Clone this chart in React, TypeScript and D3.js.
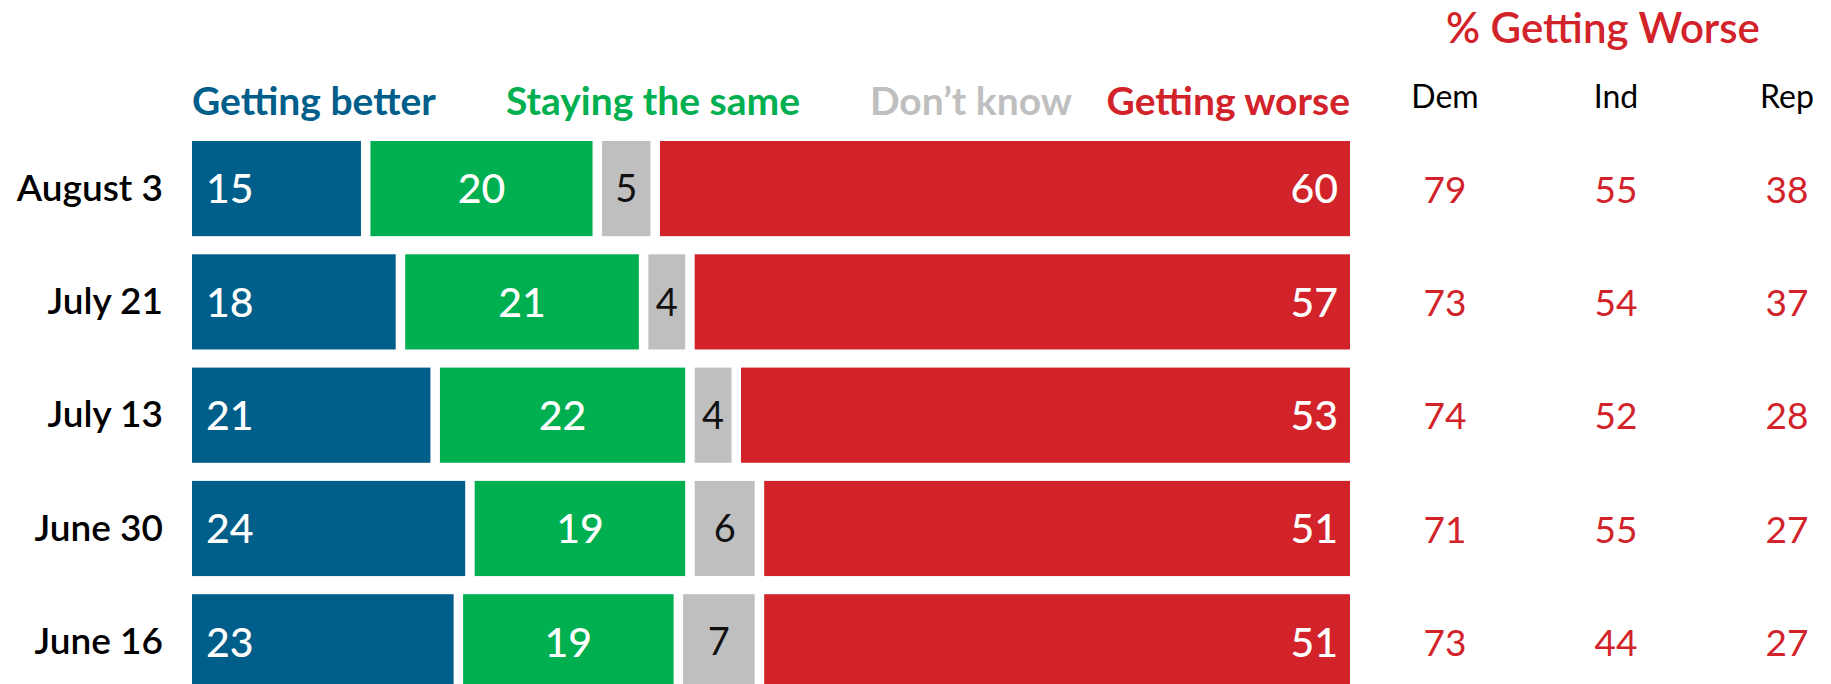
import React from "react";
import * as d3 from "d3";

const categories = ["August 3", "July 21", "July 13", "June 30", "June 16"];
const seriesNames = ["Getting better", "Staying the same", "Don\u2019t know", "Getting worse"];
const better = [15, 18, 21, 24, 23];
const same = [20, 21, 22, 19, 19];
const dontKnow = [5, 4, 4, 6, 7];
const worse = [60, 57, 53, 51, 51];
const partyNames = ["Dem", "Ind", "Rep"];
const dem = [79, 73, 74, 71, 73];
const ind = [55, 54, 52, 55, 44];
const rep = [38, 37, 28, 27, 27];
const title = "% Getting Worse";

const COLORS = ["#005E8A", "#00AF50", "#BFBFBF", "#D2232A"];
const LEGEND_COLORS = ["#005E8A", "#00AF50", "#BFBFBF", "#D2232A"];
const TEXT_COLORS = ["#FFFFFF", "#FFFFFF", "#111111", "#FFFFFF"];
const LEGEND_X = [192, 653, 971, 1350];
const LEGEND_ANCHOR = ["start", "middle", "middle", "end"];
const FONT = "Lato, 'Open Sans', sans-serif";

export default function App() {
  const W = 1831;
  const H = 684;
  const GAP = 9.5;
  const series = [better, same, dontKnow, worse];
  const party = [dem, ind, rep];

  const x = d3.scaleLinear().domain([0, 100]).range([192, 1350]);
  const y = d3
    .scaleBand<string>()
    .domain(categories)
    .range([141, 141 + 113.3 * (categories.length - 0.16)])
    .paddingInner(0.16)
    .paddingOuter(0);
  const bw = y.bandwidth();
  const px = d3.scalePoint<string>().domain(partyNames).range([1445, 1787]);

  const rows = categories.map((cat, r) => {
    let cum = 0;
    const segs = series.map((s, i) => {
      const v = s[r];
      const x0 = x(cum) + (i > 0 ? GAP / 2 : 0);
      const x1 = x(cum + v) - (i < series.length - 1 ? GAP / 2 : 0);
      cum += v;
      return { v, x0, x1, i };
    });
    return { cat, segs, y0: y(cat) as number };
  });

  return (
    <svg
      width={W}
      height={H}
      style={{ position: "absolute", left: 0, top: 0, display: "block", background: "#fff" }}
      fontFamily={FONT}
    >
      <rect x={0} y={0} width={W} height={H} fill="#fff" />
      {/* Title */}
      <text x={1603} y={43} textAnchor="middle" fontSize={42} fontWeight={600} fill="#D2232A">
        {title}
      </text>
      {/* Party headers */}
      {partyNames.map((p) => (
        <text key={p} x={px(p)} y={108} textAnchor="middle" fontSize={32} fill="#000">
          {p}
        </text>
      ))}
      {/* Legend */}
      {seriesNames.map((n, i) => (
        <text
          key={n}
          x={LEGEND_X[i]}
          y={115}
          textAnchor={LEGEND_ANCHOR[i] as any}
          fontSize={39}
          fontWeight={700}
          fill={LEGEND_COLORS[i]}
        >
          {n}
        </text>
      ))}
      {rows.map((row, r) => {
        const cy = row.y0 + bw / 2;
        return (
          <g key={row.cat}>
            <text x={163} y={cy} dy="0.33em" textAnchor="end" fontSize={37} fontWeight={600} fill="#000">
              {row.cat}
            </text>
            {row.segs.map((s) => (
              <rect key={s.i} x={s.x0} y={row.y0} width={s.x1 - s.x0} height={bw} fill={COLORS[s.i]} />
            ))}
            {row.segs.map((s) => {
              let tx = (s.x0 + s.x1) / 2;
              let anchor = "middle";
              if (s.i === 0) {
                tx = s.x0 + 14;
                anchor = "start";
              } else if (s.i === 3) {
                tx = s.x1 - 12;
                anchor = "end";
              }
              return (
                <text
                  key={"t" + s.i}
                  x={tx}
                  y={cy}
                  dy="0.36em"
                  textAnchor={anchor as any}
                  fontSize={s.i === 2 ? 38 : 41}
                  fontWeight={s.i === 2 ? 400 : 500}
                  fill={TEXT_COLORS[s.i]}
                >
                  {s.v}
                </text>
              );
            })}
            {partyNames.map((p, j) => (
              <text
                key={p}
                x={px(p)}
                y={cy}
                dy="0.38em"
                textAnchor="middle"
                fontSize={37}
                fill="#D2232A"
              >
                {party[j][r]}
              </text>
            ))}
          </g>
        );
      })}
    </svg>
  );
}
